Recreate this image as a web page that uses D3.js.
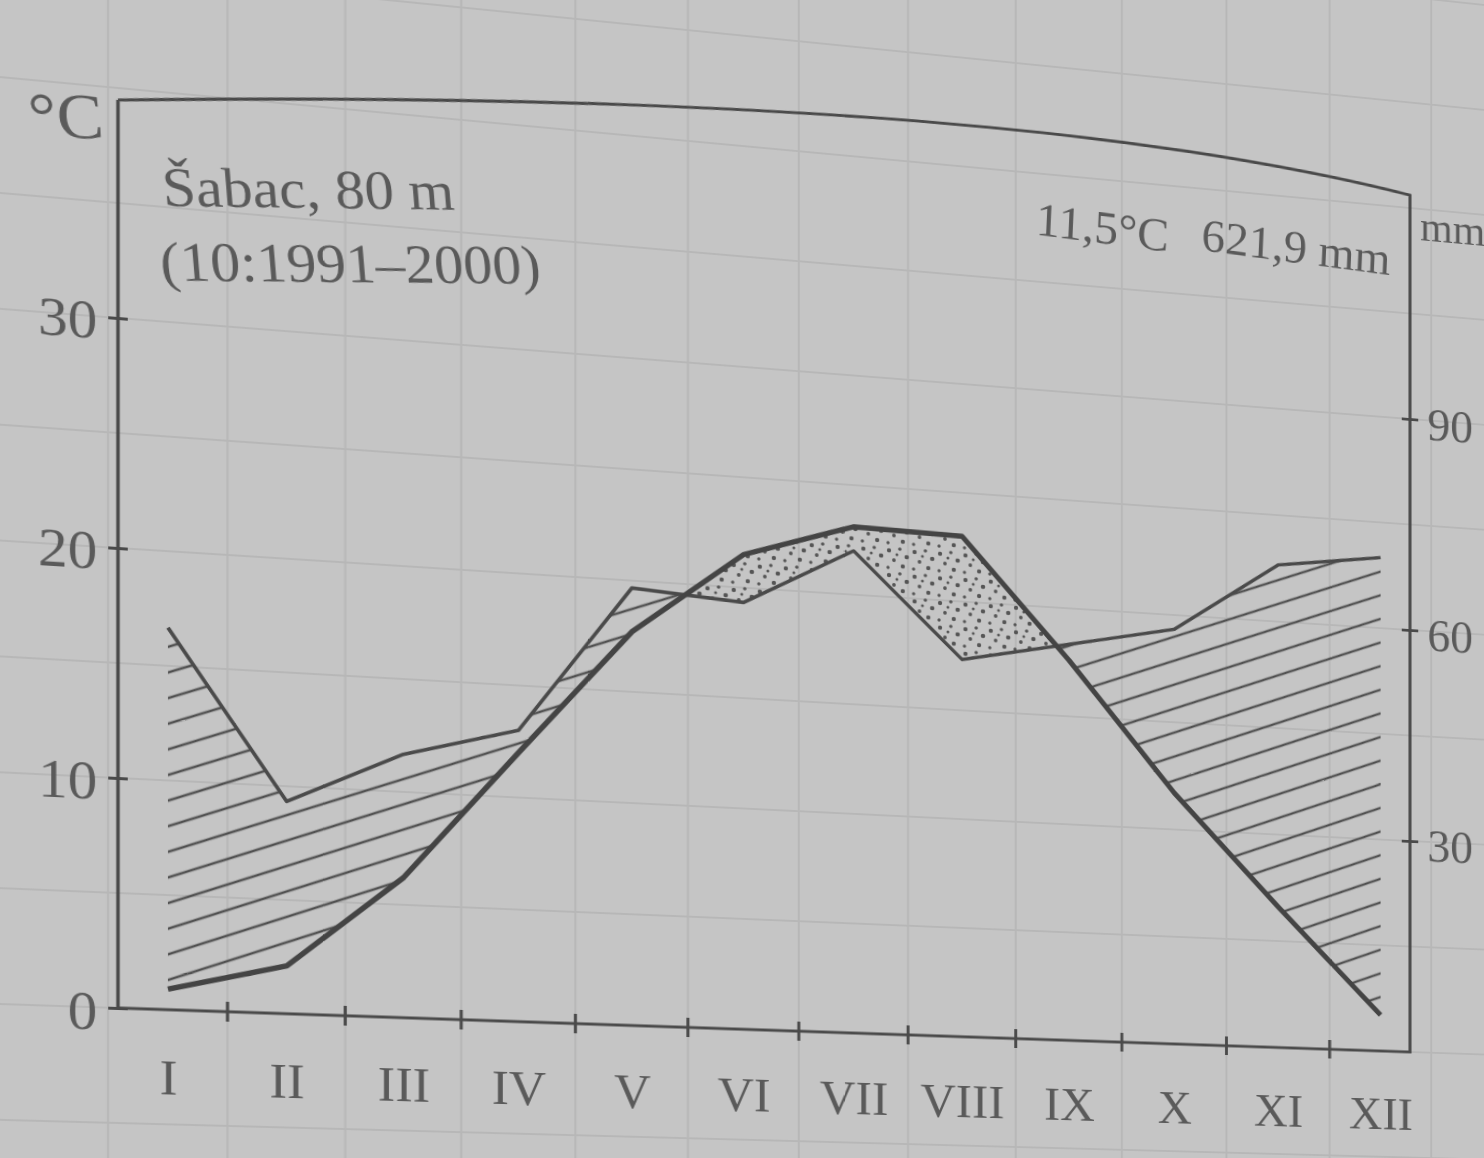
<!DOCTYPE html>
<html>
<head>
<meta charset="utf-8">
<script src="https://cdn.jsdelivr.net/npm/d3@7"></script>
<style>
html, body { margin: 0; padding: 0; overflow: hidden; width: 1484px; height: 1158px; background: #c5c5c5; }
#chart { position: absolute; left: 0; top: 0; transform-origin: 0 0; }
#chart svg { display: block; }
text { font-family: "Liberation Serif", "Times New Roman", serif; fill: #5a5a5a; }
</style>
</head>
<body>
<div id="chart"></div>
<script>
// monthly climate values, Šabac 1991-2000
var months = ["I", "II", "III", "IV", "V", "VI", "VII", "VIII", "IX", "X", "XI", "XII"];
var temperature = [0.9, 2.1, 6.2, 12.0, 17.7, 21.5, 23.1, 23.0, 17.6, 11.7, 6.6, 1.7];   // °C
var precipitation = [50, 28, 35, 39, 59, 58, 66, 52, 55, 58, 68, 70];                     // mm
var tempTicks = [0, 10, 20, 30];
var precTicks = [30, 60, 90];

// flat drawing size (svg is bigger than the page so the tilt still covers it)
var OX = 200, OY = 300, W = 1900, H = 1700;
var plotLeft = 118, plotRight = 1410, plotTop = 100;

var x = d3.scalePoint().domain(months).range([164, 1378]);
var yT = d3.scaleLinear().domain([0, 30]).range([1008, 318]);
var yP = d3.scaleLinear().domain([0, 90]).range([1008, 318]);

var svg = d3.select("#chart").append("svg")
    .attr("width", W)
    .attr("height", H)
    .attr("viewBox", `${-OX} ${-OY} ${W} ${H}`);

var defs = svg.append("defs");

// hatching for the humid season
defs.append("pattern")
    .attr("id", "hatch")
    .attr("patternUnits", "userSpaceOnUse")
    .attr("width", 60)
    .attr("height", 24)
    .attr("patternTransform", "rotate(-21)")
    .append("line")
    .attr("x1", 0).attr("y1", 12).attr("x2", 60).attr("y2", 12)
    .attr("stroke", "#4f4f4f")
    .attr("stroke-width", 2.6);

// stipple for the dry season
var dots = defs.append("pattern")
    .attr("id", "dots")
    .attr("patternUnits", "userSpaceOnUse")
    .attr("width", 26)
    .attr("height", 26);
[[4, 5, 2.2], [15, 3, 1.8], [22, 11, 2.3], [9, 15, 1.9], [18, 21, 2.2], [3, 23, 1.7], [12, 9, 1.5]].forEach(function(d) {
    dots.append("circle").attr("cx", d[0]).attr("cy", d[1]).attr("r", d[2]).attr("fill", "#555");
});

var data = months.map(function(m, i) {
    return { m: m, t: temperature[i], p: precipitation[i] };
});

// graph paper behind everything
var step = x.step();
var grid = svg.append("g").attr("stroke", "#b7b7b7").attr("stroke-width", 2);
grid.selectAll(".gv").data(d3.range(-3, 16)).enter().append("line")
    .attr("x1", d => x(months[0]) + (d - 0.5) * step)
    .attr("x2", d => x(months[0]) + (d - 0.5) * step)
    .attr("y1", -OY).attr("y2", H - OY);
grid.selectAll(".gh").data(d3.range(-15, 65, 5)).enter().append("line")
    .attr("x1", -OX).attr("x2", W - OX)
    .attr("y1", d => yT(d)).attr("y2", d => yT(d));

// clip regions above each curve
defs.append("clipPath").attr("id", "aboveT").append("path")
    .attr("d", d3.area().x(d => x(d.m)).y0(plotTop - 120).y1(d => yT(d.t))(data));
defs.append("clipPath").attr("id", "aboveP").append("path")
    .attr("d", d3.area().x(d => x(d.m)).y0(plotTop - 120).y1(d => yP(d.p))(data));

// humid: under precipitation and above temperature
svg.append("path")
    .attr("d", d3.area().x(d => x(d.m)).y0(yT(0)).y1(d => yP(d.p))(data))
    .attr("fill", "url(#hatch)")
    .attr("clip-path", "url(#aboveT)");

// arid: under temperature and above precipitation
svg.append("path")
    .attr("d", d3.area().x(d => x(d.m)).y0(yT(0)).y1(d => yT(d.t))(data))
    .attr("fill", "url(#dots)")
    .attr("clip-path", "url(#aboveP)");

// precipitation line
svg.append("path")
    .attr("d", d3.line().x(d => x(d.m)).y(d => yP(d.p))(data))
    .attr("fill", "none")
    .attr("stroke", "#4a4a4a")
    .attr("stroke-width", 3.6)
    .attr("stroke-linejoin", "round");

// temperature line
svg.append("path")
    .attr("d", d3.line().x(d => x(d.m)).y(d => yT(d.t))(data))
    .attr("fill", "none")
    .attr("stroke", "#444")
    .attr("stroke-width", 5.4)
    .attr("stroke-linejoin", "round");

// frame; the top edge bows like the curled page in the photo
svg.append("path")
    .attr("d", `M${plotLeft},${plotTop}V${yT(0)}H${plotRight}V74Q972,3 ${plotLeft},${plotTop}`)
    .attr("fill", "none")
    .attr("stroke", "#4a4a4a")
    .attr("stroke-width", 3.2);

// left axis (°C)
var axL = svg.append("g")
    .attr("transform", `translate(${plotLeft},0)`)
    .attr("color", "#4a4a4a")
    .call(d3.axisLeft(yT).tickValues(tempTicks).tickSize(9).tickPadding(10));
axL.select(".domain").remove();
axL.selectAll(".tick line").attr("x1", 9).attr("stroke-width", 3);
axL.selectAll(".tick text").style("font-size", "54px").attr("dy", "0.40em");

// right axis (mm)
var axR = svg.append("g")
    .attr("transform", `translate(${plotRight},0)`)
    .attr("color", "#4a4a4a")
    .call(d3.axisRight(yP).tickValues(precTicks).tickSize(9).tickPadding(10));
axR.select(".domain").remove();
axR.selectAll(".tick line").attr("x1", -9).attr("stroke-width", 3);
axR.selectAll(".tick text").style("font-size", "50px").attr("dy", "0.40em");

// month axis
var axB = svg.append("g")
    .attr("transform", `translate(0,${yT(0)})`)
    .call(d3.axisBottom(x).tickSize(0).tickPadding(50));
axB.select(".domain").remove();
axB.selectAll(".tick text").style("font-size", "50px");

// month boundary ticks
svg.append("g").selectAll("line").data(months.slice(1)).enter().append("line")
    .attr("x1", d => x(d) - step / 2)
    .attr("x2", d => x(d) - step / 2)
    .attr("y1", yT(0) - 10)
    .attr("y2", yT(0) + 10)
    .attr("stroke", "#4a4a4a")
    .attr("stroke-width", 3);

// labels (left ones turned back so they read level after the tilt)
svg.append("text").attr("x", 38).attr("y", 145).attr("transform", "rotate(-4.5,38,145)")
    .style("font-size", "64px").text("°C");
svg.append("text").attr("x", 160).attr("y", 202).attr("transform", "rotate(-4.5,160,202)")
    .style("font-size", "56px").text("Šabac, 80 m");
svg.append("text").attr("x", 158).attr("y", 277).attr("transform", "rotate(-4.5,158,277)")
    .style("font-size", "56px").text("(10:1991–2000)");
svg.append("text").attr("x", 1012).attr("y", 153).attr("transform", "rotate(2.5,1012,153)")
    .style("font-size", "50px").text("11,5°C");
svg.append("text").attr("x", 1388).attr("y", 163).attr("transform", "rotate(2.5,1388,163)")
    .style("font-size", "50px").style("text-anchor", "end").text("621,9 mm");
svg.append("text").attr("x", 1421).attr("y", 122).style("font-size", "46px").text("mm");

// photo tilt: four-point perspective from flat to page
function homography(src, dst) {
    var A = [];
    src.forEach(function(s, i) {
        var u = dst[i][0], v = dst[i][1];
        A.push([s[0], s[1], 1, 0, 0, 0, -u * s[0], -u * s[1], u]);
        A.push([0, 0, 0, s[0], s[1], 1, -v * s[0], -v * s[1], v]);
    });
    for (var c = 0; c < 8; c++) {
        var p = c;
        for (var r = c + 1; r < 8; r++) if (Math.abs(A[r][c]) > Math.abs(A[p][c])) p = r;
        var tmp = A[c]; A[c] = A[p]; A[p] = tmp;
        for (var r2 = 0; r2 < 8; r2++) {
            if (r2 === c) continue;
            var f = A[r2][c] / A[c][c];
            for (var k = c; k <= 8; k++) A[r2][k] -= f * A[c][k];
        }
    }
    return A.map((row, i) => row[8] / row[i]);
}

var h = homography(
    [[plotLeft + OX, yT(0) + OY], [plotLeft + OX, yT(30) + OY], [plotRight + OX, yT(0) + OY], [plotRight + OX, yT(30) + OY]],
    [[plotLeft, yT(0)], [plotLeft, yT(30)], [plotRight, 1052], [plotRight, 419]]
);
d3.select("#chart").style("transform",
    `matrix3d(${h[0]},${h[3]},0,${h[6]},${h[1]},${h[4]},0,${h[7]},0,0,1,0,${h[2]},${h[5]},0,1)`);
</script>
</body>
</html>
